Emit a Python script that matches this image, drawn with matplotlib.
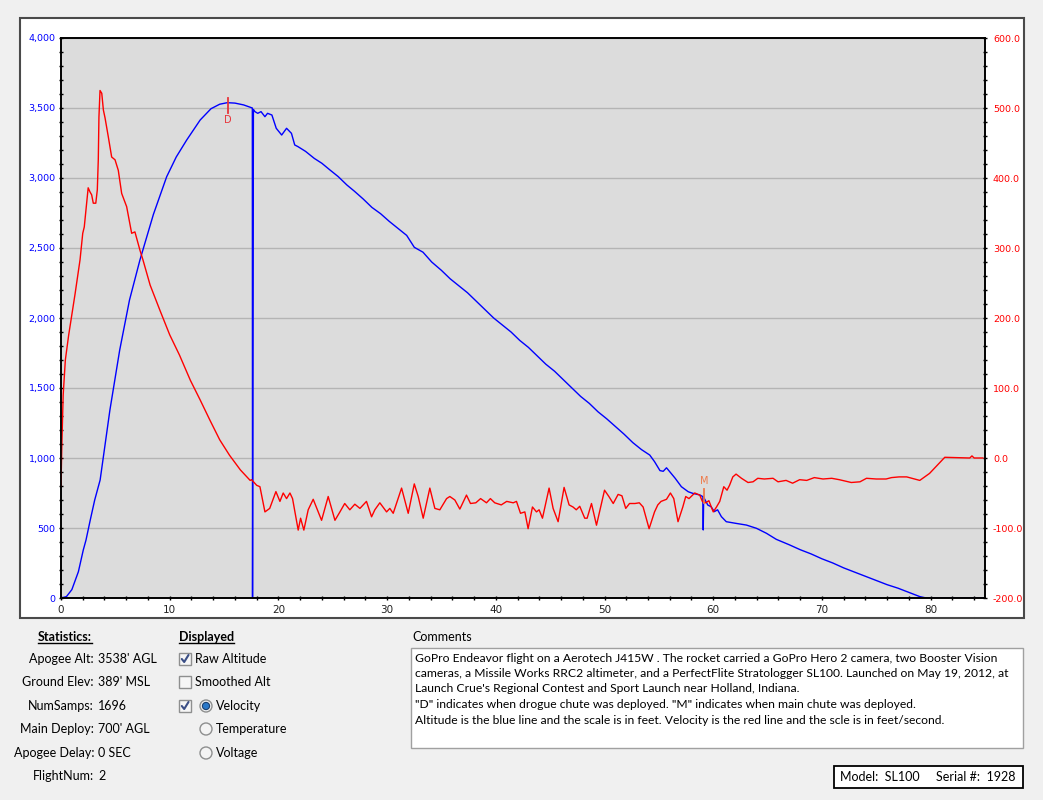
import matplotlib
matplotlib.use("Agg")
import matplotlib.pyplot as plt
from matplotlib.patches import Rectangle, Circle
from matplotlib.ticker import MultipleLocator, FuncFormatter

# ---------------------------------------------------------------------------
# Flight data
# ---------------------------------------------------------------------------

alt_t = [0, 0.5, 1.0, 1.6, 2.05, 2.3, 2.7, 3.1, 3.6, 4.5, 5.4, 6.3, 7.26, 8.5,
         9.72, 10.6, 11.56, 12.8, 13.8, 14.6, 15.3, 16.0, 16.8, 17.6, 17.62,
         17.66, 17.7, 17.84, 18.1, 18.4, 18.76, 19.0, 19.4, 19.8, 20.3, 20.75,
         21.2, 21.5, 21.8, 22.5, 23.3, 24.0, 24.7, 25.5, 26.3, 27.0, 27.8, 28.6,
         29.4, 30.2, 31.0, 31.8, 32.5, 33.3, 34.1, 35.0, 35.8, 36.6, 37.4, 38.2,
         39.0, 39.8, 40.6, 41.4, 42.2, 43.0, 43.8, 44.6, 45.4, 46.2, 47.0, 47.8,
         48.6, 49.4, 50.2, 51.0, 51.8, 52.6, 53.4, 54.16, 54.6, 55.1, 55.4, 55.7,
         56.0, 56.5, 57.07, 57.7, 58.1, 58.76, 59.05, 59.08, 59.12, 59.5, 59.8,
         60.1, 60.4, 60.75, 61.2, 62.1, 63.05, 63.97, 64.9, 65.8, 67.0, 68.0,
         69.0, 70.0, 71.0, 72.0, 73.0, 74.0, 75.0, 76.0, 77.0, 78.0, 79.0, 79.6,
         82.0, 85.0]
alt_ft = [0, 10, 60, 188, 343, 414, 560, 700, 843, 1343, 1771, 2128, 2414, 2740,
          3009, 3150, 3271, 3414, 3495, 3527, 3538, 3535, 3522, 3500, 0,
          1770, 3490, 3474, 3462, 3474, 3438, 3462, 3450, 3355, 3307, 3355,
          3319, 3236, 3224, 3190, 3140, 3105, 3060, 3010, 2950, 2905, 2850, 2790,
          2745, 2690, 2640, 2590, 2505, 2470, 2400, 2340, 2280, 2230, 2180, 2120,
          2060, 2000, 1950, 1900, 1840, 1790, 1730, 1670, 1620, 1560, 1500, 1440,
          1390, 1330, 1280, 1225, 1170, 1110, 1060, 1021, 974, 910, 905, 930,
          902, 855, 795, 759, 748, 736, 724, 486, 720, 664, 652,
          617, 630, 581, 545, 533, 521, 498, 462, 419, 380, 345,
          315, 280, 250, 215, 185, 155, 125, 95, 70, 40, 10, 0,
          0, 0]

vel_t = [0.0, 0.08, 0.2, 0.4, 0.7, 1.0, 1.3, 1.55, 1.75, 2.0, 2.14, 2.36, 2.5,
         2.67, 2.82, 2.97, 3.2, 3.34, 3.43, 3.49, 3.59, 3.75, 3.9, 4.05, 4.35,
         4.66, 4.97, 5.27, 5.58, 6.04, 6.5, 6.8, 7.26, 7.54, 8.2, 9.1, 10.0,
         10.9, 11.9, 12.8, 13.7, 14.6, 15.5, 16.5, 17.4, 17.53, 18.0, 18.3,
         18.76, 19.2, 19.77, 20.14, 20.44, 20.75, 21.06, 21.3, 21.82, 22.04,
         22.34, 22.74, 23.2, 23.66, 23.97, 24.58, 25.2, 25.66, 26.1, 26.57,
         27.03, 27.5, 28.1, 28.57, 28.87, 29.33, 29.95, 30.25, 30.56, 31.33,
         31.94, 32.5, 32.86, 33.32, 33.93, 34.39, 34.85, 35.47, 35.77, 36.23,
         36.69, 37.3, 37.67, 38.16, 38.6, 39.14, 39.5, 39.9, 40.5, 41.0, 41.6,
         41.9, 42.27, 42.67, 42.97, 43.37, 43.74, 43.98, 44.29, 44.9, 45.27,
         45.73, 46.28, 46.74, 47.1, 47.4, 47.72, 48.18, 48.4, 48.8, 49.26, 50.0,
         50.4, 50.8, 51.25, 51.6, 51.95, 52.3, 52.8, 53.2, 53.55, 54.1, 54.6,
         54.9, 55.2, 55.7, 56.06, 56.37, 56.76, 57.2, 57.47, 57.77, 58.3, 58.76,
         59.0, 59.3, 59.6, 60.0, 60.3, 60.6, 60.97, 61.27, 61.5, 61.8, 62.1,
         62.6, 63.2, 63.66, 64.1, 64.7, 65.5, 65.96, 66.7, 67.3, 67.95, 68.6,
         69.3, 70.1, 70.9, 71.6, 72.7, 73.5, 74.1, 75.0, 75.9, 76.4, 77.1, 77.8,
         79.0, 79.9, 81.3, 83.6, 83.8, 84.0, 84.8]
vel_fps = [-40, 20, 90, 140, 175, 205, 235, 262, 283, 321, 330, 364, 386,
           380, 376, 364, 364, 383, 426, 487, 525, 521, 497, 486, 459,
           430, 426, 411, 378, 359, 321, 323, 297, 283, 247, 211, 176,
           147, 111, 83, 54, 26, 4, -17, -32, -31, -39, -41,
           -77, -72, -48, -62, -50, -58, -50, -58, -103, -86,
           -103, -74, -59, -77, -89, -55, -89, -77, -65, -74,
           -66, -72, -62, -84, -74, -64, -77, -72, -79, -43,
           -79, -37, -55, -86, -43, -72, -74, -58, -55, -60,
           -73, -53, -65, -64, -58, -64, -58, -64, -67, -62, -64,
           -62, -79, -77, -101, -70, -77, -74, -86, -43, -72,
           -91, -42, -67, -70, -74, -69, -86, -86, -65, -96, -46,
           -55, -65, -52, -54, -72, -65, -65, -64, -70, -101, -77,
           -67, -62, -59, -50, -58, -91, -70, -55, -58, -50, -53,
           -62, -64, -61, -77, -70, -62, -41, -46, -39, -27, -23,
           -29, -35, -34, -29, -30, -29, -34, -32, -36, -31, -32,
           -28, -30, -29, -31, -35, -34, -29, -30, -30, -28, -27, -27,
           -32, -22, 1, 0, 3, 0, 0]

# event markers: (time, altitude) for drogue, (time, velocity) for main
drogue_t, drogue_alt = 15.36, 3538
main_t, main_vel = 59.13, -50

stat_labels = ['Apogee Alt:', 'Ground Elev:', 'NumSamps:', 'Main Deploy:',
               'Apogee Delay:', 'FlightNum:']
stat_values = ["3538' AGL", "389' MSL", '1696', "700' AGL", '0 SEC', '2']

comment_lines = [
    "GoPro Endeavor flight on a Aerotech J415W . The rocket carried a GoPro Hero 2 camera, two Booster Vision",
    "cameras, a Missile Works RRC2 altimeter, and a PerfectFlite Stratologger SL100. Launched on May 19, 2012, at",
    "Launch Crue's Regional Contest and Sport Launch near Holland, Indiana.",
    "\"D\" indicates when drogue chute was deployed. \"M\" indicates when main chute was deployed.",
    "Altitude is the blue line and the scale is in feet. Velocity is the red line and the scle is in feet/second.",
]

# ---------------------------------------------------------------------------
# Figure
# ---------------------------------------------------------------------------

W, H = 1043, 800
UI_FONT = 'Lato'
plt.rcParams['font.family'] = ['DejaVu Sans']

fig = plt.figure(figsize=(W / 100, H / 100), dpi=100, facecolor='#F0F0F0')

# pixel-coordinate overlay for the window chrome
ov = fig.add_axes([0, 0, 1, 1])
ov.set_xlim(0, W)
ov.set_ylim(H, 0)
ov.axis('off')
ov.set_zorder(0)
ov.add_patch(Rectangle((20, 18), 1004, 600, facecolor='white',
                       edgecolor='#4A4A4A', lw=1.5))

# main chart
ax = fig.add_axes([61 / W, 1 - 598 / H, (985 - 61) / W, (598 - 38) / H])
ax.set_zorder(1)
ax.set_facecolor('#DCDCDC')
ax.set_xlim(0, 85)
ax.set_ylim(0, 4000)
ax.xaxis.set_major_locator(MultipleLocator(10))
ax.xaxis.set_minor_locator(MultipleLocator(2))
ax.yaxis.set_major_locator(MultipleLocator(500))
ax.yaxis.set_minor_locator(MultipleLocator(100))
ax.yaxis.set_major_formatter(FuncFormatter(lambda v, p: f'{v:,.0f}'))
ax.yaxis.grid(True, which='major', color='#B4B4B4', lw=1)
ax.set_axisbelow(True)
for s in ax.spines.values():
    s.set_color('black')
    s.set_linewidth(1.2)
ax.tick_params(which='both', top=False, right=False, direction='inout',
               length=3.5, width=1)
ax.tick_params(axis='y', which='major', labelcolor='#0000FF', labelsize=6.8,
               pad=2)
ax.tick_params(axis='x', which='major', labelcolor='#222222', labelsize=7.5,
               pad=3)

ax.plot(alt_t, alt_ft, color='#0000FF', lw=1.0)

# drogue marker
ax.plot([drogue_t, drogue_t], [drogue_alt - 75, drogue_alt + 35],
        color='#E8343A', lw=1.3)
ax.text(drogue_t, drogue_alt - 125, 'D', color='#E8343A', ha='center',
        va='center', fontsize=7)

ax2 = ax.twinx()
ax2.set_zorder(2)
ax2.patch.set_visible(False)
ax2.xaxis.set_visible(False)
ax2.set_ylim(-200, 600)
ax2.yaxis.set_major_locator(MultipleLocator(100))
ax2.yaxis.set_minor_locator(MultipleLocator(20))
ax2.yaxis.set_major_formatter(FuncFormatter(lambda v, p: f'{v:.1f}'))
ax2.tick_params(which='both', left=False, direction='inout', length=3.5, width=1)
ax2.tick_params(axis='y', which='major', labelcolor='#FF0000', labelsize=6.8,
                pad=4)
for s in ax2.spines.values():
    s.set_color('black')
    s.set_linewidth(1.2)

ax2.plot(vel_t, vel_fps, color='#FF0000', lw=1.0)

# main chute marker
ax2.plot([main_t, main_t], [main_vel - 14, main_vel + 6], color='#EE7A4A', lw=1.3)
ax2.text(main_t, main_vel + 17, 'M', color='#EE7A4A', ha='center',
         va='center', fontsize=7)

# ---------------------------------------------------------------------------
# Bottom panel
# ---------------------------------------------------------------------------

FS = 9.0
rows_y = [659, 682, 706, 729, 753, 776]

t_stats = ov.text(38, 637, 'Statistics:', fontsize=FS, fontweight='bold',
                  family=UI_FONT, va='center', ha='left')
for lab, val, y in zip(stat_labels, stat_values, rows_y):
    ov.text(94, y, lab, fontsize=FS, family=UI_FONT, ha='right', va='center')
    ov.text(98, y, val, fontsize=FS, family=UI_FONT, ha='left', va='center')

t_disp = ov.text(179, 637, 'Displayed', fontsize=FS, fontweight='bold',
                 family=UI_FONT, va='center', ha='left')


def checkbox(x, y, checked):
    ov.add_patch(Rectangle((x, y - 6), 12, 12, facecolor='#F6F6F6',
                           edgecolor='#8E8F8F', lw=1))
    if checked:
        ov.plot([x + 2.8, x + 5.2, x + 9.5], [y, y + 3, y - 4],
                color='#3B4F86', lw=1.5, solid_capstyle='round')


def radio(x, y, selected):
    ov.add_patch(Circle((x, y), 6, facecolor='#F4F4F4', edgecolor='#8E8F8F',
                        lw=1))
    if selected:
        ov.add_patch(Circle((x, y), 3.6, facecolor='#2A78C8',
                            edgecolor='#1B3F6E', lw=0.8))


checkbox(179, rows_y[0], True)
ov.text(195, rows_y[0], 'Raw Altitude', fontsize=FS, family=UI_FONT, va='center')
checkbox(179, rows_y[1], False)
ov.text(195, rows_y[1], 'Smoothed Alt', fontsize=FS, family=UI_FONT, va='center')
checkbox(179, rows_y[2], True)
for name, y, sel in [('Velocity', rows_y[2], True),
                     ('Temperature', rows_y[3], False),
                     ('Voltage', rows_y[4], False)]:
    radio(206, y, sel)
    ov.text(216, y, name, fontsize=FS, family=UI_FONT, va='center')

# comments
ov.text(412, 637, 'Comments', fontsize=FS, family=UI_FONT, va='center')
ov.add_patch(Rectangle((411, 648), 612, 100, facecolor='white',
                       edgecolor='#A0A0A0', lw=1))
comment_texts = []
for i, line in enumerate(comment_lines):
    comment_texts.append(ov.text(415, 658 + i * 15.5, line, fontsize=FS,
                                 family=UI_FONT, va='center'))

# model / serial box
ov.add_patch(Rectangle((834, 766), 189, 22, facecolor='white',
                       edgecolor='black', lw=1.3))
ov.text(840, 777, 'Model:  SL100', fontsize=FS, family=UI_FONT, va='center')
ov.text(936, 777, 'Serial #:  1928', fontsize=FS, family=UI_FONT, va='center')

# fit comment width and add underlines using measured text extents
fig.canvas.draw()
r = fig.canvas.get_renderer()
w0 = comment_texts[0].get_window_extent(r).width
scale = 585 / w0
for t in comment_texts:
    t.set_fontsize(FS * scale)
for t in (t_stats, t_disp):
    bb = t.get_window_extent(r)
    ov.plot([bb.x0, bb.x1], [643, 643], color='black', lw=1)

fig.savefig('out.png', dpi=100, facecolor=fig.get_facecolor())
